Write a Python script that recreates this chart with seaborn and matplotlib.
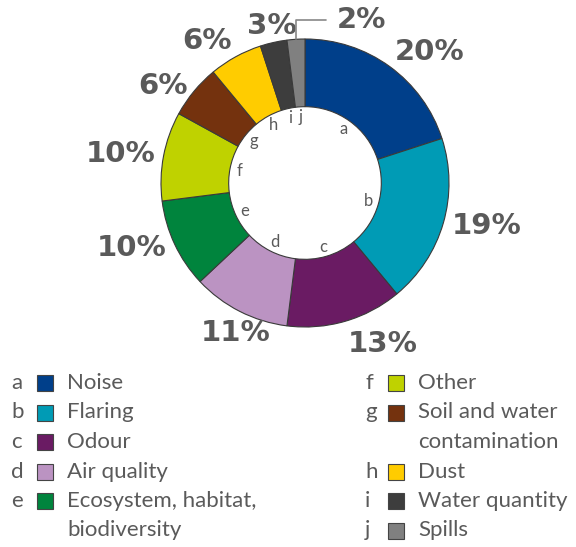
import numpy as np
import matplotlib
matplotlib.use("Agg")
import matplotlib.pyplot as plt
import seaborn as sns
from matplotlib.patches import Rectangle

letters = ["a", "b", "c", "d", "e", "f", "g", "h", "i", "j"]
categories = ["Noise", "Flaring", "Odour", "Air quality", "Ecosystem, habitat,\nbiodiversity",
              "Other", "Soil and water\ncontamination", "Dust", "Water quantity", "Spills"]
shares = [20, 19, 13, 11, 10, 10, 6, 6, 3, 2]
colors = ["#003f8a", "#009bb5", "#6a1b63", "#bb93c2", "#00843d",
          "#bfd200", "#74320e", "#ffcc00", "#3d3d3d", "#808080"]

sns.set_theme(style="white")
plt.rcParams["font.family"] = ["Lato", "DejaVu Sans"]
grey = "#5a5a5a"
pct_font = dict(family="DejaVu Sans", fontsize=21, fontweight="bold", color=grey)

W, H = 576, 547
fig = plt.figure(figsize=(W / 100, H / 100), dpi=100)

# pie axes: centre at (305, 183) px, outer radius 144 px
cx, cy, R = 305, 183, 144
half = 200
ax = fig.add_axes([(cx - half) / W, (H - cy - half) / H, 2 * half / W, 2 * half / H])

wedges, _ = ax.pie(shares, colors=colors, startangle=90, counterclock=False, radius=1,
                   wedgeprops=dict(width=0.47, edgecolor="#3a3a3a", linewidth=0.8))
lim = half / R
ax.set_xlim(-lim, lim)
ax.set_ylim(-lim, lim)
ax.axis("off")

for i, w in enumerate(wedges):
    mid = np.deg2rad((w.theta1 + w.theta2) / 2)
    c, s = np.cos(mid), np.sin(mid)
    # letters inside the hole
    ax.text(0.46 * c, 0.46 * s, letters[i], ha="center", va="center",
            fontsize=12, color=grey)
    pct = f"{shares[i]}%"
    if i == len(wedges) - 1:
        ax.annotate(pct, xy=(c, s), xytext=(c + 0.28, 1.13),
                    ha="left", va="center", **pct_font,
                    arrowprops=dict(arrowstyle="-", color="#888888", lw=1.2,
                                    connectionstyle="angle,angleA=0,angleB=90,rad=0",
                                    shrinkA=5, shrinkB=0))
        continue
    r = 1.06
    if c > 0.2:
        ha = "left"
    elif c < -0.3 and not (s < -0.85):
        ha = "right"
    else:
        ha = "center"
    if s > 0.7:
        va = "baseline"
    elif s < -0.7:
        va = "top"
    else:
        va = "center"
    ax.text(r * c, r * s, pct, ha=ha, va=va, **pct_font)

# legend, two columns
step = 29.5
y0 = 383
cols = [(0, 5, 11, 37, 67), (5, 10, 365, 388, 418)]
for start, stop, lx, sx, tx in cols:
    line = 0
    for i in range(start, stop):
        y = y0 + step * line
        fig.text(lx / W, 1 - y / H, letters[i], ha="left", va="center", fontsize=16, color=grey)
        fig.patches.append(Rectangle((sx / W, 1 - (y + 8) / H), 16 / W, 16 / H,
                                     transform=fig.transFigure, facecolor=colors[i],
                                     edgecolor="#444444", linewidth=0.8))
        for k, part in enumerate(categories[i].split("\n")):
            fig.text(tx / W, 1 - (y + step * k) / H, part, ha="left", va="center",
                     fontsize=16, color=grey)
        line += categories[i].count("\n") + 1

fig.savefig("out.png", dpi=100)
